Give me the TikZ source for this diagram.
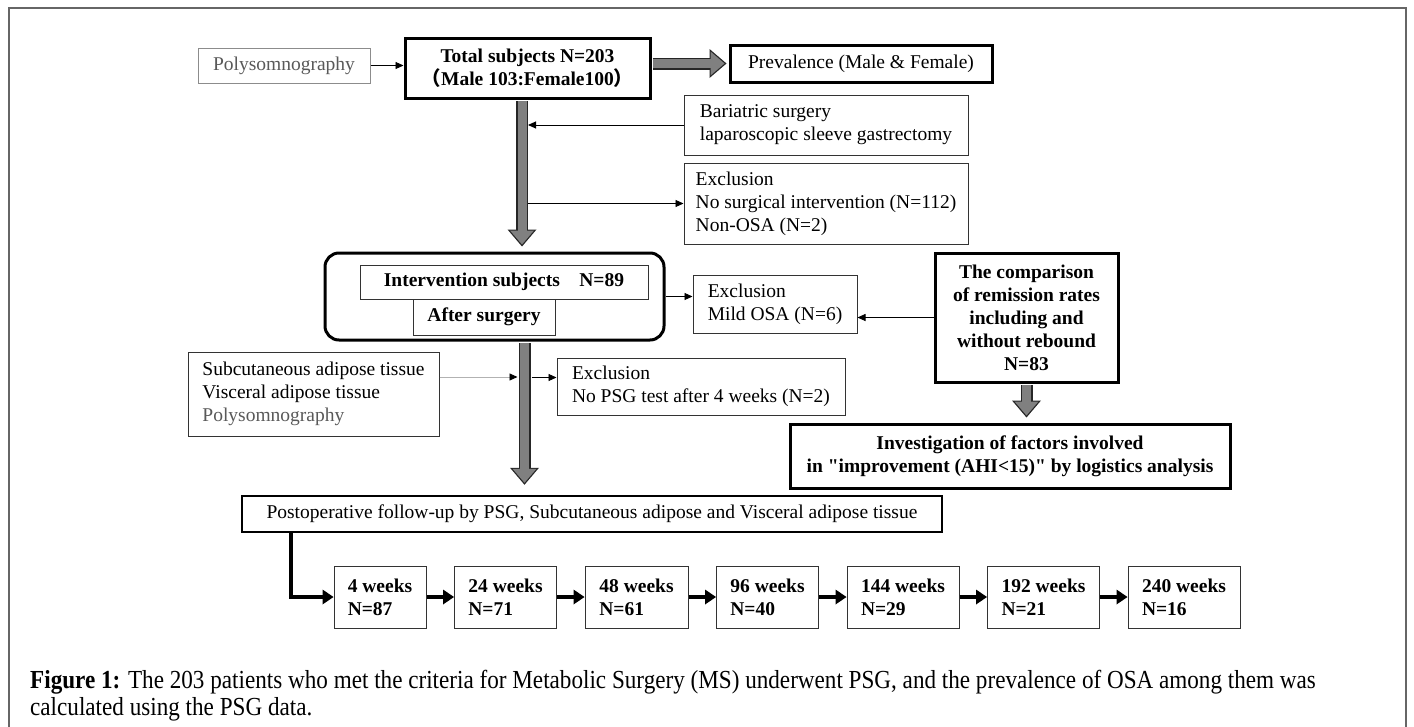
\documentclass[tikz,border=0pt]{standalone}
\usepackage{fontspec}
\setmainfont{Liberation Serif}[Ligatures=TeXOff]
\newfontfamily\cjkfont{Noto Sans CJK JP}
\newfontfamily\capfont[FakeStretch=0.89]{Liberation Serif}
\usetikzlibrary{arrows.meta,calc,positioning}

\begin{document}
\begin{tikzpicture}[
  x=1pt, y=-1pt,
  font=\fontsize{19.5}{23}\selectfont,
  plain/.style={rectangle, draw=black!80, line width=1pt, inner sep=0pt, align=left},
  heavy/.style={plain, draw=black, line width=3pt},
  srcbox/.style={plain, draw=black!45, text=black!65},
  bf/.style={font=\fontsize{19.5}{23}\selectfont\bfseries},
  wk/.style={plain, bf, minimum height=62},
  arrT/.style={-{Triangle[length=8pt,width=7pt]}, line width=0.9pt},
  arrW/.style={-{Triangle[length=11pt,width=15pt,line width=0pt]}, line width=4.5pt},
  fatO/.style={line width=12pt, draw=black!85, shorten <=1.5pt, shorten >=2pt,
    -{Triangle[length=17pt,width=29pt,line width=0pt]}},
  fatI/.style={line width=9pt, draw=black!50, shorten <=1.5pt, shorten >=4pt,
    -{Triangle[length=14pt,width=24pt,line width=0pt]}},
]
  \useasboundingbox (0,0) rectangle (1414,726);
  \draw[black!60, line width=1.2pt] (9,8) rectangle (1406,760);

  % top row
  \node[srcbox, minimum width=172, minimum height=35] (poly) at (284,65.5) {Polysomnography};
  \node[heavy, bf, align=center, minimum width=245, minimum height=60] (total) at (527.5,68)
    {Total subjects N=203\\{\cjkfont （}Male 103:Female100{\cjkfont ）}};
  \node[heavy, minimum width=262, minimum height=37] (prev) at (861,63.5) {Prevalence (Male \& Female)};

  % surgery / exclusion
  \node[plain, minimum width=284, minimum height=60] (bari) at (826,125)
    {Bariatric surgery\\laparoscopic sleeve gastrectomy};
  \node[plain, minimum width=284, minimum height=81] (excl1) at (826,203.5)
    {Exclusion\\No surgical intervention (N=112)\\Non-OSA (N=2)};

  % intervention group
  \node[heavy, rounded corners=14pt, minimum width=339, minimum height=87] (inter) at (494.5,296.5) {};
  \node[plain, bf, minimum width=288, minimum height=34] (isub) at (504,282) {Intervention subjects\quad N=89};
  \node[plain, bf, minimum width=142, minimum height=36] (after) at (484,317) {After surgery};
  \node[plain, minimum width=164, minimum height=58] (mild) at (775,304) {Exclusion\\Mild OSA (N=6)};
  \node[heavy, bf, align=center, minimum width=183, minimum height=129] (comp) at (1026.5,317.5)
    {The comparison\\of remission rates\\including and\\without rebound\\N=83};
  \node[heavy, bf, align=center, minimum width=440, minimum height=64] (inv) at (1010,456)
    {Investigation of factors involved\\in "improvement (AHI<15)" by logistics analysis};

  % measurements
  \node[plain, minimum width=251, minimum height=84] (subc) at (313.5,394)
    {Subcutaneous adipose tissue\\Visceral adipose tissue\\{\color{black!65}Polysomnography}};
  \node[plain, minimum width=288, minimum height=57] (excl2) at (701,386.5)
    {Exclusion\\No PSG test after 4 weeks (N=2)};
  \node[heavy, line width=2.5pt, minimum width=700, minimum height=36] (post) at (592,514)
    {Postoperative follow-up by PSG, Subcutaneous adipose and Visceral adipose tissue};

  % follow-up chain
  \node[wk, minimum width=92] (w4) at (380,597) {4 weeks\\N=87};
  \node[wk, minimum width=102, right=27.5pt of w4] (w24) {24 weeks\\N=71};
  \node[wk, minimum width=103, right=27.5pt of w24] (w48) {48 weeks\\N=61};
  \node[wk, minimum width=102, right=27.5pt of w48] (w96) {96 weeks\\N=40};
  \node[wk, minimum width=112, right=27.5pt of w96] (w144) {144 weeks\\N=29};
  \node[wk, minimum width=112, right=27.5pt of w144] (w192) {192 weeks\\N=21};
  \node[wk, minimum width=112, right=27.5pt of w192] (w240) {240 weeks\\N=16};

  \node[anchor=north west, align=left, inner sep=0pt, font=\capfont\fontsize{26}{27}\selectfont] (cap) at (30,670)
    {\textbf{Figure 1:} The 203 patients who met the criteria for Metabolic Surgery (MS) underwent PSG, and the prevalence of OSA among them was\\calculated using the PSG data.};

  % main column arrows
  \coordinate (colA) at (522,0);
  \coordinate (colB) at (524.5,0);
  \draw[fatO] (total.south -| colA) -- ($(inter.north -| colA)+(0,-3)$);
  \draw[fatI] (total.south -| colA) -- ($(inter.north -| colA)+(0,-3)$);
  \draw[fatO] (inter.south -| colB) -- ($(post.north -| colB)+(0,-8)$);
  \draw[fatI] (inter.south -| colB) -- ($(post.north -| colB)+(0,-8)$);
  \draw[fatO] (total.east |- prev.west) -- (prev.west);
  \draw[fatI] (total.east |- prev.west) -- (prev.west);
  \draw[fatO] (comp.south) -- ($(comp.south |- inv.north)+(0,-3)$);
  \draw[fatI] (comp.south) -- ($(comp.south |- inv.north)+(0,-3)$);

  % thin arrows
  \draw[arrT] (poly.east) -- (total.west |- poly.east);
  \draw[arrT] (bari.west) -- ($(bari.west -| colA)+(6,0)$);
  \draw[arrT] ($(excl1.west -| colA)+(6,0)$) -- (excl1.west);
  \draw[arrT] (inter.east) -- (inter.east -| mild.west);
  \draw[arrT] (comp.west) -- (comp.west -| mild.east);
  \draw[line width=0.9pt, black!30, -{Triangle[length=8pt,width=7pt,color=black]}]
    ($(subc.east)+(0,-17)$) -- ($(subc.east -| colB)+(-7,-17)$);
  \draw[arrT] ($(excl2.west -| colB)+(7,-9)$) -- ($(excl2.west)+(0,-9)$);

  % follow-up arrows
  \draw[arrW] ($(post.south west)+(50,0)$) |- (w4.west);
  \foreach \a/\b in {w4/w24,w24/w48,w48/w96,w96/w144,w144/w192,w192/w240}
    \draw[arrW] (\a.east) -- (\b.west);
\end{tikzpicture}
\end{document}
